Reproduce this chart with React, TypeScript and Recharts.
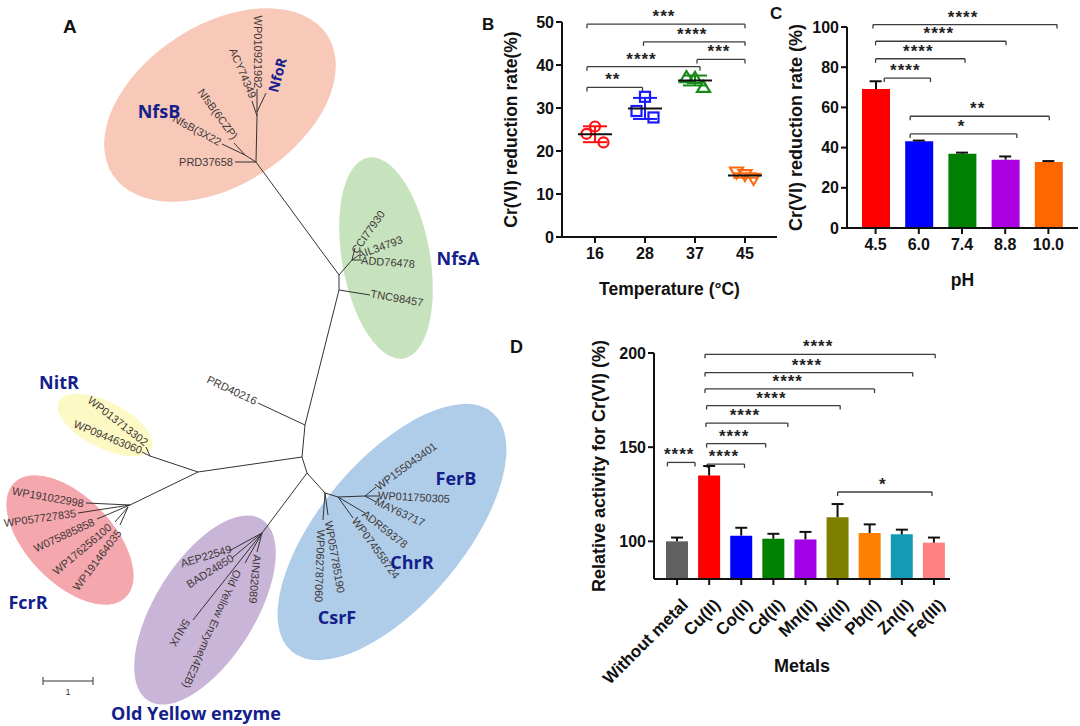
import React from 'react';
import {
  ScatterChart,
  Scatter,
  ComposedChart,
  Bar,
  Cell,
  ErrorBar,
  XAxis,
  YAxis,
  Label,
  ReferenceLine,
  ReferenceDot,
} from 'recharts';

const SANS = '"Liberation Sans", Arial, Helvetica, sans-serif';
const CLADE_FONT = '"Open Sans", "Noto Sans", sans-serif';
const INK = '#111';
const BRACKET = '#3c3c3c';
const CLADE_BLUE = '#13208c';

// ---------- A: phylogenetic tree ----------
const cladeX = [220, 386, 105, 70, 205, 392];
const cladeY = [105, 258, 425, 540, 610, 532];
const cladeRx = [128, 44, 52, 80, 107, 156];
const cladeRy = [80, 102, 23, 43, 50, 72];
const cladeTilt = [-33, -10, 27, 46, -58, -50];
const cladeFill = ['#f8c8b8', '#c6e3be', '#fdf9c4', '#f4a7ad', '#c9b5d7', '#afcde9'];

const branches = [
  [256, 162, 235, 162],
  [256, 162, 245, 155],
  [245, 155, 222, 144],
  [245, 155, 234, 143],
  [256, 162, 257, 116],
  [257, 116, 252, 101],
  [257, 112, 266, 93],
  [257, 116, 257, 89],
  [256, 162, 339, 275],
  [339, 275, 352, 260],
  [352, 260, 355, 248],
  [352, 260, 359, 255],
  [352, 260, 362, 260],
  [339, 275, 339, 290],
  [339, 290, 370, 295],
  [339, 290, 305, 425],
  [305, 425, 258, 403],
  [305, 425, 302, 457],
  [302, 457, 198, 472],
  [198, 472, 150, 456],
  [150, 456, 146, 447],
  [150, 456, 142, 452],
  [198, 472, 130, 505],
  [130, 505, 86, 503],
  [130, 505, 78, 513],
  [130, 505, 97, 519],
  [128, 507, 115, 522],
  [128, 507, 120, 525],
  [302, 457, 307, 473],
  [307, 473, 262, 533],
  [262, 533, 229, 551],
  [262, 533, 232, 558],
  [262, 533, 193, 620],
  [262, 533, 245, 563],
  [262, 533, 257, 552],
  [307, 473, 325, 493],
  [325, 493, 323, 520],
  [325, 493, 328, 515],
  [325, 493, 338, 497],
  [338, 497, 365, 496],
  [365, 496, 376, 487],
  [365, 496, 379, 496],
  [365, 496, 376, 502],
  [338, 497, 365, 513],
  [338, 497, 353, 518],
  [43, 681, 93, 681],
  [43, 677, 43, 685],
  [93, 677, 93, 685],
];

const tipNames = [
  'WP010921982', 'ACY74349', 'NfsB(6CZP)', 'NfsB(3X22', 'PRD37658',
  'CCI77930', 'AIL34793', 'ADD76478', 'TNC98457', 'PRD40216',
  'WP013713302', 'WP094463060', 'WP191022998', 'WP057727835', 'W075885858',
  'WP176256100', 'WP191464035', 'AEP22549', 'BAD24850', '5NUX',
  'Old Yellow Enzyme(4E2B)', 'AIN32089', 'WP155043401', 'WP011750305', 'MAY63717',
  'ADR59378', 'WP074558724', 'WP057785190', 'WP062787060', '1',
];
const tipX = [258, 243, 218, 197, 206, 368, 380, 388, 397, 232, 118, 108, 48, 40, 64, 82, 97, 206, 210, 180, 212, 255, 406, 414, 400, 385, 376, 335, 320, 68];
const tipY = [52, 73, 114, 130, 162, 232, 247, 262, 298, 390, 421, 437, 497, 518, 535, 549, 560, 556, 571, 633, 629, 579, 466, 497, 512, 529, 548, 557, 566, 692];
const tipAngle = [90, 67, 54, 28, 0, -55, -20, 4, 10, 25, 38, 22, 10, -8, -25, -40, -53, -17, -32, 120, 114, 95, -36, 3, 25, 38, 54, 80, 92, 0];

const cladeNames = ['NfsB', 'NfoR', 'NfsA', 'NitR', 'FcrR', 'Old Yellow enzyme', 'FerB', 'ChrR', 'CsrF'];
const cladeLabelX = [159, 277, 458, 59, 28, 196, 456, 412, 337];
const cladeLabelY = [111, 75, 258, 382, 602, 713, 478, 562, 617];
const cladeLabelAngle = [0, -75, 0, 0, 0, 0, 0, 0, 0];

const EllipseShape = (p: any) => {
  const d = p.payload;
  return (
    <ellipse
      cx={p.cx}
      cy={p.cy}
      rx={d.rx}
      ry={d.ry}
      fill={d.fill}
      transform={`rotate(${d.tilt}, ${p.cx}, ${p.cy})`}
    />
  );
};

const NoDot = () => <g />;

const TipText = (p: any) => {
  const d = p.payload;
  return (
    <text
      x={p.cx}
      y={p.cy}
      transform={`rotate(${d.a}, ${p.cx}, ${p.cy})`}
      textAnchor="middle"
      dominantBaseline="central"
      fontSize={d.t === '1' ? 9 : 11}
      fontFamily={SANS}
      fill="#3f3838"
    >
      {d.t}
    </text>
  );
};

const CladeText = (p: any) => {
  const d = p.payload;
  return (
    <text
      x={p.cx}
      y={p.cy}
      transform={`rotate(${d.a}, ${p.cx}, ${p.cy})`}
      textAnchor="middle"
      dominantBaseline="central"
      fontSize={d.t === 'NfoR' ? 14 : 18}
      fontWeight={700}
      fontFamily={CLADE_FONT}
      fill={CLADE_BLUE}
    >
      {d.t}
    </text>
  );
};

function TreePanel() {
  const ellipses = cladeX.map((x, i) => ({
    x,
    y: cladeY[i],
    rx: cladeRx[i],
    ry: cladeRy[i],
    tilt: cladeTilt[i],
    fill: cladeFill[i],
  }));
  const tips = tipNames.map((t, i) => ({ t, x: tipX[i], y: tipY[i], a: tipAngle[i] }));
  const clades = cladeNames.map((t, i) => ({ t, x: cladeLabelX[i], y: cladeLabelY[i], a: cladeLabelAngle[i] }));
  return (
    <ScatterChart width={520} height={726} margin={{ top: 0, right: 0, bottom: 0, left: 0 }}>
      <XAxis type="number" dataKey="x" domain={[0, 520]} hide />
      <YAxis type="number" dataKey="y" domain={[0, 726]} reversed hide />
      <Scatter data={ellipses} shape={EllipseShape} isAnimationActive={false} />
      {branches.map((b, i) => (
        <Scatter
          key={`br${i}`}
          data={[
            { x: b[0], y: b[1] },
            { x: b[2], y: b[3] },
          ]}
          line={{ stroke: '#333', strokeWidth: 1 }}
          shape={NoDot}
          isAnimationActive={false}
        />
      ))}
      <Scatter data={tips} shape={TipText} isAnimationActive={false} />
      <Scatter data={clades} shape={CladeText} isAnimationActive={false} />
    </ScatterChart>
  );
}

// ---------- shared helpers ----------
const tickFont = (size: number) => ({ fill: INK, fontSize: size, fontWeight: 700, fontFamily: SANS });
const axisStroke = { stroke: INK, strokeWidth: 2 };

const yTitle = (text: string, size: number) => (props: any) => {
  const vb = props.viewBox;
  const x = vb.x + 5;
  const y = vb.y + vb.height / 2;
  return (
    <text
      x={x}
      y={y}
      transform={`rotate(-90, ${x}, ${y})`}
      textAnchor="middle"
      dominantBaseline="central"
      fontSize={size}
      fontWeight={700}
      fontFamily={SANS}
      fill={INK}
    >
      {text}
    </text>
  );
};

const xTitle = (text: string, size: number, dy: number) => (props: any) => {
  const vb = props.viewBox;
  return (
    <text
      x={vb.x + vb.width / 2}
      y={vb.y + dy}
      textAnchor="middle"
      fontSize={size}
      fontWeight={700}
      fontFamily={SANS}
      fill={INK}
    >
      {text}
    </text>
  );
};

function brackets(from: number[], to: number[], ys: number[], stars: string[], drop: number, xAxisId: any) {
  const out: React.ReactNode[] = [];
  ys.forEach((y, i) => {
    const line = { xAxisId, ifOverflow: 'visible' as const, stroke: BRACKET, strokeWidth: 1.3 };
    out.push(<ReferenceLine key={`bh${i}`} {...line} segment={[{ x: from[i], y }, { x: to[i], y }]} />);
    out.push(<ReferenceLine key={`bl${i}`} {...line} segment={[{ x: from[i], y }, { x: from[i], y: y - drop }]} />);
    out.push(<ReferenceLine key={`br${i}`} {...line} segment={[{ x: to[i], y }, { x: to[i], y: y - drop }]} />);
    out.push(
      <ReferenceDot
        key={`bs${i}`}
        xAxisId={xAxisId}
        x={(from[i] + to[i]) / 2}
        y={y}
        r={0}
        ifOverflow="visible"
        shape={(p: any) => (
          <text
            x={p.cx - 2}
            y={p.cy - 2}
            textAnchor="middle"
            fontSize={17}
            fontWeight={700}
            letterSpacing={1}
            fontFamily={SANS}
            fill="#222"
          >
            {stars[i]}
          </text>
        )}
      />
    );
  });
  return out;
}

const capShape = (p: any) => (
  <line x1={p.cx - 6} x2={p.cx + 6} y1={p.cy} y2={p.cy} stroke={INK} strokeWidth={2} />
);

// ---------- B: temperature ----------
const tempLabels = ['16', '28', '37', '45'];
const tempReplicates = [
  [24.0, 25.7, 22.0],
  [29.3, 32.6, 27.8],
  [37.2, 37.0, 34.9],
  [15.0, 14.4, 13.5],
];
const tempMeans = [23.9, 29.9, 36.4, 14.3];
const tempSd = [1.85, 2.45, 1.15, 0.5];
const tempColors = ['#ff1010', '#1a1aff', '#158a15', '#ff6a10'];
const tempMarkers = ['circle', 'square', 'up', 'down'];
const JITTER = [-0.17, 0, 0.17];

const tempBracketFrom = [-0.16, 0.97, 2.04, -0.16, -0.16];
const tempBracketTo = [3.0, 3.0, 3.0, 2.1, 0.95];
const tempBracketY = [49.5, 45.4, 41.3, 39.6, 34.8];
const tempBracketStars = ['***', '****', '***', '****', '**'];

const markerShape = (kind: string, color: string) => (p: any) => {
  const { cx, cy } = p;
  const s = { fill: 'none', stroke: color, strokeWidth: 2.2 };
  if (kind === 'circle') return <circle cx={cx} cy={cy} r={5} {...s} />;
  if (kind === 'square') return <rect x={cx - 5} y={cy - 5} width={10} height={10} {...s} />;
  if (kind === 'up') return <polygon points={`${cx},${cy - 6} ${cx - 6.5},${cy + 5} ${cx + 6.5},${cy + 5}`} {...s} />;
  return <polygon points={`${cx - 6.5},${cy - 5} ${cx + 6.5},${cy - 5} ${cx},${cy + 6}`} {...s} />;
};

const meanShape = (p: any) => (
  <line x1={p.cx - 17} x2={p.cx + 17} y1={p.cy} y2={p.cy} stroke={INK} strokeWidth={2} />
);

function TempPanel() {
  return (
    <ScatterChart width={300} height={300} margin={{ top: 22, right: 13, bottom: 18, left: 16 }}>
      <XAxis
        type="number"
        dataKey="x"
        domain={[-0.66, 3.64]}
        ticks={[0, 1, 2, 3]}
        tickFormatter={(v: number) => tempLabels[Math.round(v)]}
        axisLine={axisStroke}
        tickLine={axisStroke}
        tick={tickFont(16)}
        tickSize={6}
        tickMargin={5}
        height={45}
      >
        <Label content={xTitle('Temperature (°C)', 17.5, 58)} />
      </XAxis>
      <YAxis
        type="number"
        dataKey="y"
        domain={[0, 50]}
        ticks={[0, 10, 20, 30, 40, 50]}
        axisLine={axisStroke}
        tickLine={axisStroke}
        tick={tickFont(16)}
        tickSize={6}
        width={56}
      >
        <Label content={yTitle('Cr(VI) reduction rate(%)', 17.5)} />
      </YAxis>
      {brackets(tempBracketFrom, tempBracketTo, tempBracketY, tempBracketStars, 0.95, 0)}
      {tempLabels.map((t, i) => (
        <Scatter
          key={`pts${t}`}
          data={tempReplicates[i].map((v, j) => ({ x: i + JITTER[j], y: v }))}
          shape={markerShape(tempMarkers[i], tempColors[i])}
          isAnimationActive={false}
        />
      ))}
      {tempLabels.map((t, i) => (
        <Scatter
          key={`mean${t}`}
          data={[{ x: i, y: tempMeans[i], sd: tempSd[i] }]}
          shape={meanShape}
          isAnimationActive={false}
        >
          <ErrorBar dataKey="sd" direction="y" width={12} stroke={tempColors[i]} strokeWidth={2} />
        </Scatter>
      ))}
    </ScatterChart>
  );
}

// ---------- C: pH ----------
const phLabels = ['4.5', '6.0', '7.4', '8.8', '10.0'];
const phRate = [69.2, 43.1, 36.9, 34.0, 32.8];
const phErr = [3.8, 0.4, 0.6, 1.6, 0.5];
const phColors = ['#ff0000', '#0000ff', '#008000', '#ad00e2', '#ff6600'];

const phBracketFrom = [-0.06, 0, 0, 0.2, 0.8, 0.8];
const phBracketTo = [4.2, 3.02, 2.07, 1.27, 4.02, 3.27];
const phBracketY = [101.2, 92.9, 84.2, 74.6, 55.6, 46.8];
const phBracketStars = ['****', '****', '****', '****', '**', '*'];

function PhPanel() {
  const data = phLabels.map((c, i) => ({ c, n: i, v: phRate[i], e: [0, phErr[i]] }));
  const pad = { left: 7, right: 8 };
  return (
    <ComposedChart width={300} height={300} data={data} margin={{ top: 27, right: 2, bottom: 27, left: 11 }}>
      <XAxis
        dataKey="c"
        padding={pad}
        axisLine={axisStroke}
        tickLine={axisStroke}
        tick={tickFont(16)}
        tickSize={6}
        tickMargin={5}
        height={45}
      >
        <Label content={xTitle('pH', 17.5, 58)} />
      </XAxis>
      <XAxis xAxisId="n" type="number" dataKey="n" domain={[-0.5, 4.5]} padding={pad} hide />
      <YAxis
        domain={[0, 100]}
        ticks={[0, 20, 40, 60, 80, 100]}
        axisLine={axisStroke}
        tickLine={axisStroke}
        tick={tickFont(16)}
        tickSize={6}
        width={56}
      >
        <Label content={yTitle('Cr(VI) reduction rate (%)', 18)} />
      </YAxis>
      <Bar dataKey="v" barSize={28} isAnimationActive={false}>
        {data.map((d, i) => (
          <Cell key={d.c} fill={phColors[i]} />
        ))}
        <ErrorBar dataKey="e" direction="y" width={0} stroke={INK} strokeWidth={2} />
      </Bar>
      {phRate.map((v, i) => (
        <ReferenceDot key={`cap${i}`} xAxisId="n" x={i} y={v + phErr[i]} r={0} ifOverflow="visible" shape={capShape} />
      ))}
      {brackets(phBracketFrom, phBracketTo, phBracketY, phBracketStars, 2, 'n')}
    </ComposedChart>
  );
}

// ---------- D: metals ----------
const metalNames = ['Without metal', 'Cu(II)', 'Co(II)', 'Cd(II)', 'Mn(II)', 'Ni(II)', 'Pb(II)', 'Zn(II)', 'Fe(III)'];
const metalActivity = [100, 134.9, 103, 101.4, 101, 112.8, 104.4, 103.7, 99.3];
const metalErr = [2, 5.1, 4.2, 2.6, 4, 7, 4.6, 2.5, 2.7];
const metalColors = ['#606060', '#ff0000', '#0000ff', '#008000', '#a200e6', '#808000', '#ff8000', '#139bb5', '#ff8080'];

const metalBracketFrom = [0.87, 0.87, 0.87, 0.92, 0.9, 0.92, 0.94, -0.3, 5.0];
const metalBracketTo = [8.04, 7.34, 6.15, 5.08, 3.45, 2.76, 2.1, 0.56, 7.94];
const metalBracketY = [199.3, 189.6, 180.9, 172.1, 162.8, 151.9, 141.0, 141.9, 126.2];
const metalBracketStars = ['****', '****', '****', '****', '****', '****', '****', '****', '*'];

const RotTick = (p: any) => (
  <text
    transform={`translate(${p.x + 12}, ${p.y + 19}) rotate(-45)`}
    textAnchor="end"
    fontSize={17}
    fontWeight={700}
    fontFamily={SANS}
    fill={INK}
  >
    {p.payload.value}
  </text>
);

function MetalPanel() {
  const data = metalNames.map((c, i) => ({ c, n: i, v: metalActivity[i], e: [0, metalErr[i]] }));
  const pad = { left: 7, right: 0 };
  return (
    <ComposedChart width={385} height={396} data={data} margin={{ top: 23, right: 5, bottom: 27, left: 24 }}>
      <XAxis
        dataKey="c"
        padding={pad}
        interval={0}
        axisLine={axisStroke}
        tickLine={axisStroke}
        tick={RotTick}
        tickSize={6}
        height={120}
      >
        <Label content={xTitle('Metals', 18, 93)} />
      </XAxis>
      <XAxis xAxisId="n" type="number" dataKey="n" domain={[-0.5, 8.5]} padding={pad} hide />
      <YAxis
        domain={[80, 200]}
        ticks={[100, 150, 200]}
        axisLine={axisStroke}
        tickLine={axisStroke}
        tick={tickFont(16)}
        tickSize={6}
        width={60}
      >
        <Label content={yTitle('Relative activity  for Cr(VI) (%)', 18)} />
      </YAxis>
      <Bar dataKey="v" barSize={22} isAnimationActive={false}>
        {data.map((d, i) => (
          <Cell key={d.c} fill={metalColors[i]} />
        ))}
        <ErrorBar dataKey="e" direction="y" width={0} stroke={INK} strokeWidth={2} />
      </Bar>
      {metalActivity.map((v, i) => (
        <ReferenceDot key={`cap${i}`} xAxisId="n" x={i} y={v + metalErr[i]} r={0} ifOverflow="visible" shape={capShape} />
      ))}
      {brackets(metalBracketFrom, metalBracketTo, metalBracketY, metalBracketStars, 2.1, 'n')}
    </ComposedChart>
  );
}

export default function App() {
  const letter = { fontFamily: SANS, fontWeight: 700, fill: INK } as const;
  return (
    <div style={{ position: 'absolute', left: 0, top: 0, width: 1080, height: 726, background: '#fff', overflow: 'hidden' }}>
      <div style={{ position: 'absolute', left: 0, top: 0 }}>
        <TreePanel />
      </div>
      <div style={{ position: 'absolute', left: 490, top: 0 }}>
        <TempPanel />
      </div>
      <div style={{ position: 'absolute', left: 780, top: 0 }}>
        <PhPanel />
      </div>
      <div style={{ position: 'absolute', left: 570, top: 330 }}>
        <MetalPanel />
      </div>
      <svg width={1080} height={726} style={{ position: 'absolute', left: 0, top: 0, pointerEvents: 'none' }}>
        <text x={63} y={33} fontSize={19} {...letter}>A</text>
        <text x={482} y={30} fontSize={17} {...letter}>B</text>
        <text x={770} y={19} fontSize={17} {...letter}>C</text>
        <text x={510} y={353} fontSize={18} {...letter}>D</text>
      </svg>
    </div>
  );
}
